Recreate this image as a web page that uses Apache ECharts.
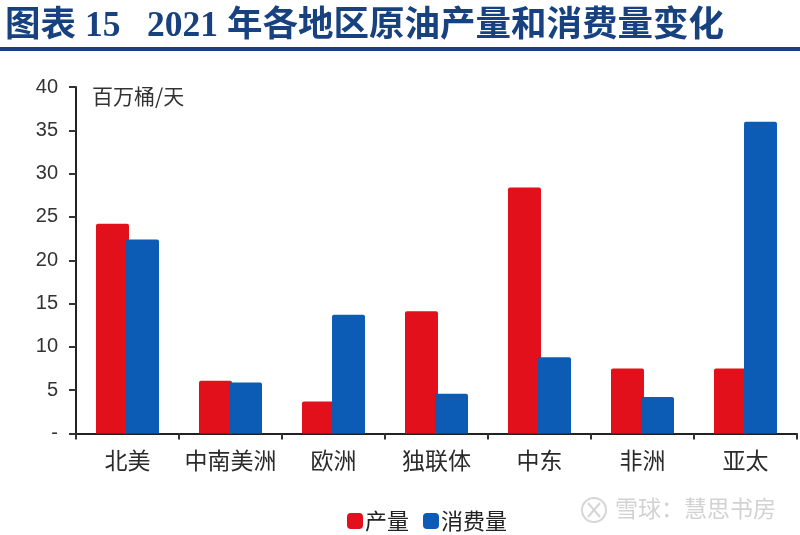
<!DOCTYPE html>
<html><head><meta charset="utf-8">
<style>html,body{margin:0;padding:0;background:#fff}#c{width:800px;height:535px}</style>
<script src="https://cdn.jsdelivr.net/npm/echarts@6/dist/echarts.min.js"></script>
</head><body><div id="c"></div>
<script>
const categories = ['北美','中南美洲','欧洲','独联体','中东','非洲','亚太'];
const production = [24.2,6.1,3.7,14.1,28.4,7.5,7.5];
const consumption = [22.4,5.9,13.7,4.6,8.8,4.2,36.0];
const seriesNames = ['产量','消费量'];
const titleText = '图表 15   2021 年各地区原油产量和消费量变化';
const unitText = '百万桶/天';
const watermark = '雪球：慧思书房';
const navy = '#17417f';
const chart = echarts.init(document.getElementById('c'));
chart.setOption({
  animation:false,
  backgroundColor:'#fff',
  textStyle:{fontFamily:'"Noto Sans CJK SC"'},
  title:{text:titleText,left:0,top:4,textStyle:{color:navy,fontSize:35.5,fontWeight:'bold',fontFamily:'"Liberation Serif","Noto Sans CJK SC"'}},
  legend:{
    data:seriesNames,left:342,top:505,itemWidth:16,itemHeight:16,itemGap:14,
    textStyle:{color:'#222',fontSize:22,padding:[0,0,0,-3]},
    itemStyle:{borderRadius:2}
  },
  grid:{left:76,right:3,top:87,bottom:101.5,containLabel:false},
  xAxis:{
    type:'category',data:categories,
    axisLine:{lineStyle:{color:'#222',width:2}},
    axisTick:{show:true,length:6,interval:0,lineStyle:{color:'#333',width:2}},
    axisLabel:{color:'#2b2b2b',fontSize:23,margin:15,interval:0}
  },
  yAxis:{
    type:'value',min:0,max:40,interval:5,
    axisLine:{show:true,lineStyle:{color:'#222',width:2}},
    axisTick:{show:true,length:7,lineStyle:{color:'#333',width:2}},
    splitLine:{show:false},
    axisLabel:{color:'#333',fontSize:20,margin:18,fontFamily:'"Liberation Sans"',
      formatter:v=>v===0?'-':String(v)}
  },
  series:[
    {name:seriesNames[0],type:'bar',data:production,barWidth:33,barGap:'-9%',
     itemStyle:{color:'#e1101a',borderRadius:[2,2,0,0]}},
    {name:seriesNames[1],type:'bar',data:consumption,barWidth:33,barGap:'-9%',
     itemStyle:{color:'#0c5bb4',borderRadius:[2,2,0,0]}}
  ],
  graphic:[
    {type:'rect',shape:{x:0,y:47,width:800,height:4},style:{fill:navy},silent:true},
    {type:'text',x:92,y:86,style:{text:unitText,fill:'#333',font:'21px "Noto Sans CJK SC"'}},
    {type:'circle',shape:{cx:594,cy:510,r:12},style:{fill:'none',stroke:'#d6d6d6',lineWidth:2}},
    {type:'line',shape:{x1:588,y1:503,x2:600,y2:517},style:{stroke:'#d6d6d6',lineWidth:2}},
    {type:'line',shape:{x1:600,y1:503,x2:588,y2:517},style:{stroke:'#d6d6d6',lineWidth:2}},
    {type:'text',x:615,y:497,style:{text:watermark,fill:'#d2d2d2',font:'23px "Noto Sans CJK SC"'}}
  ]
});
</script></body></html>
